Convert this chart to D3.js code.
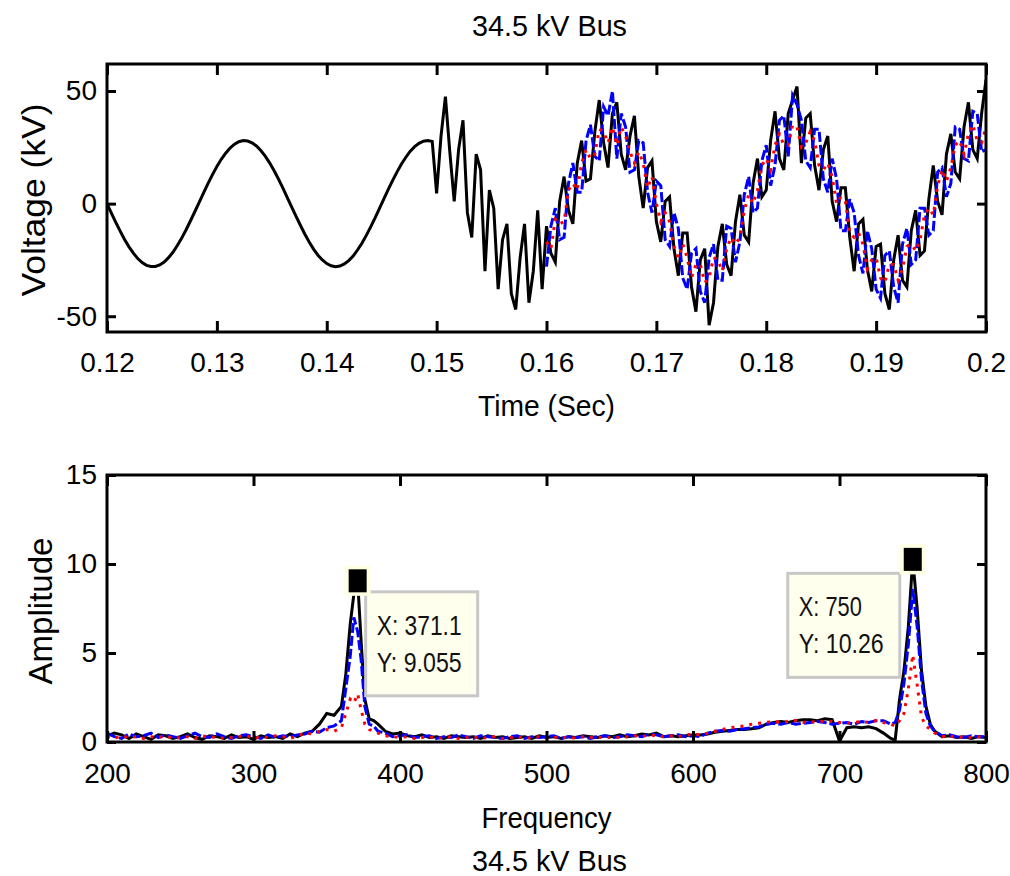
<!DOCTYPE html>
<html>
<head>
<meta charset="utf-8">
<script src="https://cdn.jsdelivr.net/npm/d3@7"></script>
<style>
  html, body { margin: 0; padding: 0; background: #fff; }
  svg { display: block; }
</style>
</head>
<body>
<svg id="fig" width="1010" height="876"></svg>
<script>
// ---------------- time-domain record (sampled every 0.4 ms) ----------------
const sampleStep = 0.0004;          // s
const tPreFault = 0.12;             // start of the clean 60 Hz section
const tPost = 0.16;                 // start of the compared records

// kV, 0.1200 ... 0.1496 s
const vPreFault = [
  0, -4.2, -8.3, -12.2, -15.9, -19.2, -22.0, -24.4, -26.2, -27.4,
  -27.9, -27.9, -27.2, -25.9, -24.0, -21.6, -18.6, -15.3, -11.6, -7.6,
  -3.5, 0.7, 4.9, 9.0, 12.9, 16.5, 19.7, 22.4, 24.7, 26.4,
  27.5, 28.0, 27.8, 27.0, 25.6, 23.6, 21.1, 18.1, 14.7, 11.0,
  7.0, 2.8, -1.4, -5.6, -9.6, -13.5, -17.0, -20.2, -22.9, -25.0,
  -26.6, -27.6, -28.0, -27.7, -26.8, -25.3, -23.3, -20.6, -17.6, -14.1,
  -10.3, -6.3, -2.1, 2.1, 6.3, 10.3, 14.1, 17.6, 20.6, 23.3,
  25.3, 26.8, 27.7, 28.0, 27.6
];
// kV, 0.1500 ... 0.1596 s (switching transient)
const vTransient = [
  4.5, 30, 47.5, 23, 1, 24, 37, -4, -15, 22,
  15, -30, 6, -2, -38, -16, -9, -40, -47, -24,
  -9, -44, -30, -3, -38
];
// kV, 0.1600 ... 0.2000 s
const vBlackPost = [
  -10, -22, -26, 1, 12, -3, -9, 18, 28, 10,
  11, 32, 46, 27, 16, 40, 45, 22, 15, 30,
  39, 12, -2, 16, 19, -8, -17, 1, 3, -20,
  -32, -13, -13, -37, -48, -25, -20, -54, -44, -19,
  -9, -27, -32, -8, 4, -14, -17, 9, 20, 3,
  6, 28, 41, 20, 15, 40, 46, 52, 18, 38,
  40, 17, 6, 24, 30, 1, -8, 7, 7, -15,
  -30, -9, -7, -29, -39, -19, -18, -40, -47, -25,
  -14, -34, -37, -12, -3, -23, -21, 2, 17, 1,
  -5, 22, 31, 14, 11, 34, 45, 24, 20, 40,
  55
];
const vBluePost = [
  -28, -10, -2, -16, -15, 9, 18, 5, 5, 28,
  35, 21, 19, 43, 39, 50, 20, 40, 34, 14,
  15, 28, 27, 5, -4, 10, 8, -16, -19, -4,
  -11, -33, -38, -22, -20, -39, -44, -24, -18, -34,
  -34, -10, -11, -26, -17, 4, 12, -4, -2, 19,
  26, 8, 17, 37, 39, 21, 48, 44, 37, 19,
  16, 33, 33, 11, 5, 20, 11, -12, -12, 2,
  -4, -23, -31, -12, -20, -38, -42, -23, -21, -37,
  -44, -18, -11, -27, -25, -2, -2, -14, -12, 14,
  16, 3, 9, 34, 33, 20, 19, 41, 40, 23,
  24
];
const vRedPost = [
  -17, -20, -7, -9, -8, 6, 9, 6, 18, 24,
  20, 22, 33, 32, 27, 34, 26, 34, 30, 23,
  18, 23, 18, 7, 12, 0, -8, -4, -8, -19,
  -24, -18, -24, -33, -27, -27, -35, -33, -24, -25,
  -30, -20, -15, -18, -15, -3, 4, 0, 6, 17,
  20, 15, 26, 31, 26, 26, 35, 34, 25, 27,
  32, 28, 17, 15, 18, 12, 0, 3, 1, -13,
  -15, -13, -18, -29, -25, -24, -33, -35, -27, -27,
  -34, -29, -19, -18, -21, -16, -5, -2, -5, 8,
  15, 10, 16, 26, 28, 22, 31, 35, 28, 27,
  34
];

// ---------------- amplitude spectrum ----------------
const freqHz = [
  200, 205, 210, 215, 220, 225, 230, 235, 240, 245,
  250, 255, 260, 265, 270, 275, 280, 285, 290, 295,
  300, 305, 310, 315, 320, 325, 330, 335, 340, 345,
  350, 355, 360, 363, 366, 368.5, 371.1, 373.5, 376, 379,
  382, 385, 390, 395, 400, 405, 410, 415, 420, 425,
  430, 435, 440, 445, 450, 455, 460, 465, 470, 475,
  480, 485, 490, 495, 500, 505, 510, 515, 520, 525,
  530, 535, 540, 545, 550, 555, 560, 565, 570, 575,
  580, 585, 590, 595, 600, 605, 610, 615, 620, 625,
  630, 635, 640, 645, 650, 655, 660, 665, 670, 675,
  680, 685, 690, 695, 700, 705, 710, 715, 720, 725,
  730, 735, 738, 741, 744, 747, 750, 753, 756, 759,
  762, 765, 770, 775, 780, 785, 790, 795, 800
];
const ampBlack = [
  0.35, 0.5, 0.4, 0.2, 0.45, 0.3, 0.15, 0.4, 0.35, 0.2,
  0.3, 0.45, 0.25, 0.15, 0.35, 0.3, 0.2, 0.4, 0.25, 0.3,
  0.15, 0.35, 0.25, 0.3, 0.2, 0.45, 0.3, 0.5, 0.6, 1.0,
  1.6, 1.5, 2.0, 3.8, 6.6, 8.3, 9.055, 5.6, 2.4, 1.3,
  1.2, 1.0, 0.6, 0.45, 0.5, 0.35, 0.3, 0.4, 0.25, 0.3,
  0.2, 0.35, 0.3, 0.25, 0.3, 0.2, 0.35, 0.25, 0.3, 0.2,
  0.25, 0.3, 0.2, 0.35, 0.25, 0.3, 0.2, 0.3, 0.25, 0.35,
  0.3, 0.25, 0.35, 0.3, 0.4, 0.3, 0.35, 0.45, 0.4, 0.5,
  0.3, 0.35, 0.3, 0.35, 0.4, 0.4, 0.45, 0.55, 0.6, 0.65,
  0.7, 0.7, 0.75, 0.8, 1.0, 1.1, 1.15, 1.1, 1.2, 1.25,
  1.25, 1.2, 1.3, 1.25, 0.05, 0.8, 0.85, 0.8, 0.85, 0.75,
  0.5, 0.2, 0.1, 2.4, 4.0, 6.5, 10.26, 7.5, 4.0, 2.0,
  1.0, 0.6, 0.3, 0.35, 0.25, 0.3, 0.2, 0.3, 0.25
];
const ampBlue = [
  0.5, 0.3, 0.2, 0.45, 0.3, 0.35, 0.5, 0.25, 0.4, 0.3,
  0.2, 0.35, 0.5, 0.3, 0.25, 0.45, 0.3, 0.2, 0.35, 0.4,
  0.3, 0.2, 0.4, 0.25, 0.35, 0.3, 0.4, 0.45, 0.6, 0.55,
  0.8, 0.9, 1.2, 3.0, 4.8, 7.0, 6.2, 4.6, 2.0, 1.0,
  0.9, 0.6, 0.5, 0.3, 0.35, 0.4, 0.25, 0.3, 0.35, 0.2,
  0.3, 0.25, 0.4, 0.3, 0.2, 0.35, 0.3, 0.25, 0.2, 0.3,
  0.35, 0.2, 0.3, 0.25, 0.3, 0.35, 0.2, 0.3, 0.25, 0.3,
  0.2, 0.3, 0.35, 0.25, 0.3, 0.4, 0.35, 0.3, 0.45, 0.4,
  0.3, 0.35, 0.4, 0.3, 0.35, 0.3, 0.5, 0.6, 0.65, 0.6,
  0.7, 0.75, 0.8, 0.85, 1.0, 1.05, 1.0, 1.1, 1.0, 1.05,
  1.1, 1.15, 1.1, 1.0, 1.05, 1.1, 1.0, 1.15, 1.1, 1.2,
  1.2, 1.0, 1.1, 1.8, 3.3, 5.5, 8.6, 6.5, 3.5, 1.6,
  0.9, 0.6, 0.35, 0.4, 0.3, 0.25, 0.35, 0.3, 0.3
];
const ampRed = [
  0.3, 0.2, 0.35, 0.25, 0.3, 0.2, 0.3, 0.25, 0.35, 0.2,
  0.25, 0.3, 0.2, 0.35, 0.25, 0.3, 0.2, 0.25, 0.3, 0.35,
  0.2, 0.3, 0.25, 0.35, 0.3, 0.2, 0.35, 0.5, 0.45, 0.6,
  0.7, 0.6, 0.8, 1.6, 2.4, 2.2, 2.7, 1.8, 1.0, 0.7,
  0.6, 0.5, 0.35, 0.3, 0.25, 0.3, 0.2, 0.25, 0.3, 0.2,
  0.25, 0.3, 0.2, 0.25, 0.3, 0.2, 0.25, 0.3, 0.2, 0.25,
  0.3, 0.2, 0.25, 0.3, 0.2, 0.25, 0.3, 0.2, 0.25, 0.3,
  0.25, 0.3, 0.2, 0.3, 0.25, 0.3, 0.35, 0.3, 0.4, 0.35,
  0.3, 0.35, 0.3, 0.4, 0.45, 0.4, 0.5, 0.6, 0.7, 0.8,
  0.85, 0.9, 1.0, 1.05, 1.1, 1.15, 1.1, 1.15, 1.2, 1.1,
  1.15, 1.1, 1.2, 1.15, 1.1, 1.05, 1.1, 1.15, 1.1, 1.2,
  1.1, 1.0, 0.9, 1.2, 1.6, 3.0, 4.9, 3.2, 1.4, 0.9,
  0.7, 0.5, 0.3, 0.35, 0.25, 0.3, 0.25, 0.3, 0.25
];
const tipFreqs = [371.1, 750];      // data cursors on the black spectrum

// ---------------- ticks and labels ----------------
const timeTicks = [0.12, 0.13, 0.14, 0.15, 0.16, 0.17, 0.18, 0.19, 0.2];
const voltTicks = [-50, 0, 50];
const freqTicks = [200, 300, 400, 500, 600, 700, 800];
const ampTicks = [0, 5, 10, 15];
const titleText = "34.5 kV Bus";
const timeLabel = "Time (Sec)";
const voltLabel = "Voltage (kV)";
const freqLabel = "Frequency";
const ampLabel = "Amplitude";

// ---------------- drawing ----------------
const FONT = "'Liberation Sans', Arial, Helvetica, sans-serif";
const svg = d3.select("#fig").style("font-family", FONT);

const boxTop = { x0: 107, x1: 986, y0: 64, y1: 332 };
const boxBot = { x0: 107, x1: 986, y0: 475, y1: 742 };

const xT = d3.scaleLinear().domain([0.12, 0.2]).range([boxTop.x0, boxTop.x1]);
const yT = d3.scaleLinear().domain([-57, 62]).range([boxTop.y1, boxTop.y0]);
const xB = d3.scaleLinear().domain([200, 800]).range([boxBot.x0, boxBot.x1]);
const yB = d3.scaleLinear().domain([0, 15]).range([boxBot.y1, boxBot.y0]);

const blackWave = vPreFault.concat(vTransient, vBlackPost)
  .map((v, i) => ({ x: tPreFault + i * sampleStep, y: v }));
const blueWave = vBluePost.map((v, i) => ({ x: tPost + i * sampleStep, y: v }));
const redWave = vRedPost.map((v, i) => ({ x: tPost + i * sampleStep, y: v }));

const specBlack = freqHz.map((f, i) => ({ x: f, y: ampBlack[i] }));
const specBlue = freqHz.map((f, i) => ({ x: f, y: ampBlue[i] }));
const specRed = freqHz.map((f, i) => ({ x: f, y: ampRed[i] }));

const styles = {
  black: { stroke: "#000000", width: 3, dash: null },
  blue: { stroke: "#0000ff", width: 3, dash: "10,3" },
  red: { stroke: "#ff0000", width: 3, dash: "3,6" }
};

function panel(box, x, y, xTicks, yTicks, xFmt, clipId, series, labelPad) {
  const g = svg.append("g");
  g.append("defs").append("clipPath").attr("id", clipId)
    .append("rect")
    .attr("x", box.x0).attr("y", box.y0)
    .attr("width", box.x1 - box.x0).attr("height", box.y1 - box.y0);

  const plot = g.append("g").attr("clip-path", `url(#${clipId})`);
  const line = d3.line().x(d => x(d.x)).y(d => y(d.y));
  series.forEach(s => {
    const st = styles[s.style];
    plot.append("path")
      .datum(s.data)
      .attr("d", line)
      .attr("fill", "none")
      .attr("stroke", st.stroke)
      .attr("stroke-width", st.width)
      .attr("stroke-linejoin", "miter")
      .attr("stroke-dasharray", st.dash);
  });

  const axes = [
    { gen: d3.axisBottom(x).tickValues(xTicks).tickSizeInner(-11).tickSizeOuter(0)
        .tickPadding(labelPad).tickFormat(xFmt), at: `translate(0,${box.y1})` },
    { gen: d3.axisTop(x).tickValues(xTicks).tickSizeInner(-11).tickSizeOuter(0)
        .tickFormat(""), at: `translate(0,${box.y0})` },
    { gen: d3.axisLeft(y).tickValues(yTicks).tickSizeInner(-9).tickSizeOuter(0)
        .tickPadding(10).tickFormat(d => String(d)), at: `translate(${box.x0},0)` },
    { gen: d3.axisRight(y).tickValues(yTicks).tickSizeInner(-9).tickSizeOuter(0)
        .tickFormat(""), at: `translate(${box.x1},0)` }
  ];
  axes.forEach(a => {
    const ag = g.append("g").attr("transform", a.at).call(a.gen);
    ag.select(".domain").remove();
    ag.selectAll(".tick line").attr("stroke", "#000").attr("stroke-width", 3);
    ag.selectAll(".tick text")
      .attr("fill", "#000")
      .style("font-family", FONT)
      .style("font-size", "28px");
  });

  g.append("rect")
    .attr("x", box.x0).attr("y", box.y0)
    .attr("width", box.x1 - box.x0).attr("height", box.y1 - box.y0)
    .attr("fill", "none").attr("stroke", "#000").attr("stroke-width", 3);
  return g;
}

// top: voltage waveforms
panel(boxTop, xT, yT, timeTicks, voltTicks, d => String(d), "clipTop", [
  { data: blackWave, style: "black" },
  { data: blueWave, style: "blue" },
  { data: redWave, style: "red" }
], 20);

// bottom: amplitude spectra
panel(boxBot, xB, yB, freqTicks, ampTicks, d => String(d), "clipBot", [
  { data: specBlack, style: "black" },
  { data: specBlue, style: "blue" },
  { data: specRed, style: "red" }
], 21);

// titles and axis labels
function label(txt, x, y, len, size, rotate) {
  const t = svg.append("text")
    .attr("text-anchor", "middle")
    .attr("fill", "#000")
    .style("font-size", size + "px")
    .attr("textLength", len)
    .attr("lengthAdjust", "spacingAndGlyphs")
    .text(txt);
  if (rotate) t.attr("transform", `translate(${x},${y}) rotate(-90)`);
  else t.attr("x", x).attr("y", y);
  return t;
}
const midX = (boxTop.x0 + boxTop.x1) / 2;
label(titleText, midX + 3, 36, 155, 29, false);
label(timeLabel, midX, 416, 137, 29, false);
label(voltLabel, 45, 200, 193, 34, true);
label(freqLabel, midX, 828, 130, 29, false);
label(ampLabel, 52, 611, 147, 34, true);
label(titleText, midX + 3, 871, 155, 29, false);

// data cursors on the black spectrum
const tipLayer = svg.append("g");
tipFreqs.forEach((f, k) => {
  const i = freqHz.indexOf(f);
  const px = xB(f), py = yB(ampBlack[i]);
  const lines = ["X: " + String(f), "Y: " + d3.format(".4~")(ampBlack[i])];

  // box sits to the right of the first cursor and to the left of the second
  const bw = 112, bh = 104;
  const bx = k === 0 ? px + 8 : px - 13 - bw;
  const by = k === 0 ? py + 11 : py + 14;
  tipLayer.append("rect")
    .attr("x", bx).attr("y", by).attr("width", bw).attr("height", bh)
    .attr("fill", "#ffffee").attr("stroke", "#c8c8c8").attr("stroke-width", 3);
  lines.forEach((s, j) => {
    tipLayer.append("text")
      .attr("x", bx + 11).attr("y", by + (j === 0 ? 43 : 80))
      .attr("fill", "#111")
      .style("font-size", "28px")
      .attr("textLength", s.length * 11 - 3)
      .attr("lengthAdjust", "spacingAndGlyphs")
      .text(s);
  });

  // cursor marker
  tipLayer.append("rect")
    .attr("x", px - 13).attr("y", py - 15).attr("width", 26).attr("height", 30)
    .attr("fill", "#ffffe1");
  tipLayer.append("rect")
    .attr("x", px - 9).attr("y", py - 11.5).attr("width", 18).attr("height", 23)
    .attr("fill", "#000");
});
</script>
</body>
</html>
